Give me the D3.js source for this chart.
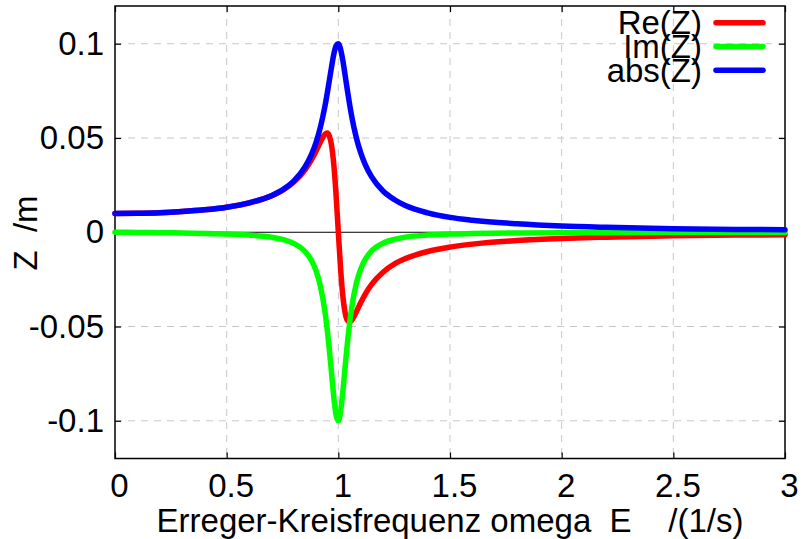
<!DOCTYPE html>
<html>
<head>
<meta charset="utf-8">
<script src="https://cdn.jsdelivr.net/npm/d3@7"></script>
<style>
  body { margin: 0; background: #fff; }
  text { font-family: "Liberation Sans", Arial, sans-serif; fill: #000; }
</style>
</head>
<body>
<svg id="chart"></svg>
<script>
// values
const omega = [0, 0.1, 0.2, 0.3, 0.4, 0.5, 0.6, 0.7, 0.75, 0.8, 0.85, 0.88, 0.9, 0.92, 0.94, 0.95, 0.96, 0.97, 0.98, 0.99,
  1.0, 1.01, 1.02, 1.03, 1.04, 1.05, 1.06, 1.08, 1.1, 1.12, 1.15, 1.2, 1.25, 1.3, 1.4, 1.5, 1.6, 1.8, 2.0, 2.2, 2.5, 2.8, 3.0];
const reZ = [0.0100, 0.0101, 0.0104, 0.0110, 0.0119, 0.0133, 0.0155, 0.0193, 0.0222, 0.0265, 0.0330, 0.0385, 0.0430, 0.0479, 0.0520, 0.0526, 0.0510, 0.0458, 0.0355, 0.0195,
  0.0, -0.0190, -0.0336, -0.0425, -0.0467, -0.0476, -0.0466, -0.0423, -0.0374, -0.0329, -0.0275, -0.0212, -0.0169, -0.0140, -0.0102, -0.0079, -0.0063, -0.0044, -0.0033, -0.0026, -0.0019, -0.0015, -0.0013];
const imZ = [0, -0.0001, -0.0002, -0.0004, -0.0006, -0.0009, -0.0015, -0.0026, -0.0038, -0.0059, -0.0101, -0.0150, -0.0204, -0.0287, -0.0420, -0.0513, -0.0625, -0.0752, -0.0877, -0.0971,
  -0.1000, -0.0952, -0.0848, -0.0719, -0.0595, -0.0488, -0.0400, -0.0274, -0.0196, -0.0145, -0.0098, -0.0058, -0.0038, -0.0026, -0.0015, -0.0009, -0.0007, -0.0004, -0.0002, -0.0002, -0.0001, -0.0001, -0.0001];
const absZ = [0.0100, 0.0101, 0.0104, 0.0110, 0.0119, 0.0133, 0.0156, 0.0194, 0.0225, 0.0271, 0.0345, 0.0413, 0.0476, 0.0559, 0.0668, 0.0735, 0.0807, 0.0880, 0.0946, 0.0990,
  0.1000, 0.0971, 0.0912, 0.0836, 0.0757, 0.0682, 0.0614, 0.0504, 0.0422, 0.0360, 0.0292, 0.0219, 0.0174, 0.0142, 0.0103, 0.0079, 0.0064, 0.0045, 0.0033, 0.0026, 0.0019, 0.0015, 0.0013];

const seriesNames = ['Re(Z)', 'Im(Z)', 'abs(Z)'];
const seriesColors = ['#ff0000', '#00ff00', '#0000ff'];
const xTicks = [0, 0.5, 1, 1.5, 2, 2.5, 3];
const yTicks = [-0.1, -0.05, 0, 0.05, 0.1];
const xLabel = 'Erreger-Kreisfrequenz omega  E    /(1/s)';
const yLabel = 'Z  /m';

let fontSize = 33;

let svg = d3.select('#chart')
    .attr('width', 802)
    .attr('height', 539),
  margin = {top: 6, right: 17, bottom: 80.5, left: 115},
  width = +svg.attr('width') - margin.left - margin.right,
  height = +svg.attr('height') - margin.top - margin.bottom;

let viewport = svg.append('g')
  .attr('transform', 'translate(' + margin.left + ',' + margin.top + ')');

let xScale = d3.scaleLinear().domain([0, 3]).range([0, width]);
let yScale = d3.scaleLinear().domain([-0.12, 0.12]).range([height, 0]);

// grid
let grid = viewport.append('g')
  .attr('stroke', '#c8c8c8')
  .attr('stroke-width', 1)
  .attr('stroke-dasharray', '7,6');

grid.selectAll('.vgrid')
  .data(xTicks.slice(1, -1))
  .enter().append('line')
  .attr('x1', d => xScale(d)).attr('x2', d => xScale(d))
  .attr('y1', 0).attr('y2', height);

grid.selectAll('.hgrid')
  .data(yTicks.filter(d => d !== 0))
  .enter().append('line')
  .attr('y1', d => yScale(d)).attr('y2', d => yScale(d))
  .attr('x1', 0).attr('x2', width);

// zero axis
viewport.append('line')
  .attr('x1', 0).attr('x2', width)
  .attr('y1', yScale(0)).attr('y2', yScale(0))
  .attr('stroke', '#000')
  .attr('stroke-width', 1);

// axes with inward ticks
function styleAxis(g) {
  g.select('.domain').remove();
  g.selectAll('line').attr('stroke', '#000').attr('stroke-width', 1.2);
  g.selectAll('text').attr('font-size', fontSize).attr('font-family', '"Liberation Sans", Arial, sans-serif');
}

viewport.append('g')
  .attr('transform', 'translate(0,' + height + ')')
  .call(d3.axisBottom(xScale).tickValues(xTicks).tickSizeInner(-6).tickSizeOuter(0)
    .tickPadding(15).tickFormat(d => String(d)))
  .call(styleAxis)
  .selectAll('text').attr('dx', 4);

viewport.append('g')
  .call(d3.axisTop(xScale).tickValues(xTicks).tickSizeInner(-6).tickSizeOuter(0).tickFormat(''))
  .call(styleAxis);

viewport.append('g')
  .call(d3.axisLeft(yScale).tickValues(yTicks).tickSizeInner(-6).tickSizeOuter(0)
    .tickPadding(11).tickFormat(d => String(d)))
  .call(styleAxis);

viewport.append('g')
  .attr('transform', 'translate(' + width + ',0)')
  .call(d3.axisRight(yScale).tickValues(yTicks).tickSizeInner(-6).tickSizeOuter(0).tickFormat(''))
  .call(styleAxis);

// border
viewport.append('rect')
  .attr('x', 0).attr('y', 0)
  .attr('width', width).attr('height', height)
  .attr('fill', 'none')
  .attr('stroke', '#000')
  .attr('stroke-width', 1.5);

// curves
let line = d3.line()
  .x(d => xScale(d[0]))
  .y(d => yScale(d[1]))
  .curve(d3.curveMonotoneX);

[reZ, imZ, absZ].forEach((vals, i) => {
  viewport.append('path')
    .datum(omega.map((w, j) => [w, vals[j]]))
    .attr('fill', 'none')
    .attr('stroke', seriesColors[i])
    .attr('stroke-width', 5.5)
    .attr('stroke-linecap', 'round')
    .attr('stroke-linejoin', 'round')
    .attr('d', line);
});

// legend (rows overlap a little, as in the original)
let legend = viewport.append('g')
  .attr('transform', 'translate(' + (702 - margin.left) + ',' + (22.7 - margin.top) + ')');

seriesNames.forEach((name, i) => {
  let row = legend.append('g').attr('transform', 'translate(0,' + (i * 23.8) + ')');
  row.append('text')
    .attr('x', 0).attr('y', 0)
    .attr('dy', '0.35em')
    .attr('text-anchor', 'end')
    .attr('font-size', fontSize)
    .text(name);
  row.append('line')
    .attr('x1', 14).attr('x2', 61)
    .attr('y1', 0).attr('y2', 0)
    .attr('stroke', seriesColors[i])
    .attr('stroke-width', 5.5)
    .attr('stroke-linecap', 'round');
});

// axis labels
svg.append('text')
  .attr('x', margin.left + width / 2)
  .attr('y', 532)
  .attr('text-anchor', 'middle')
  .attr('font-size', fontSize)
  .style('white-space', 'pre')
  .text(xLabel);

svg.append('text')
  .attr('transform', 'translate(37,233) rotate(-90)')
  .attr('text-anchor', 'middle')
  .attr('font-size', fontSize)
  .style('white-space', 'pre')
  .text(yLabel);
</script>
</body>
</html>
